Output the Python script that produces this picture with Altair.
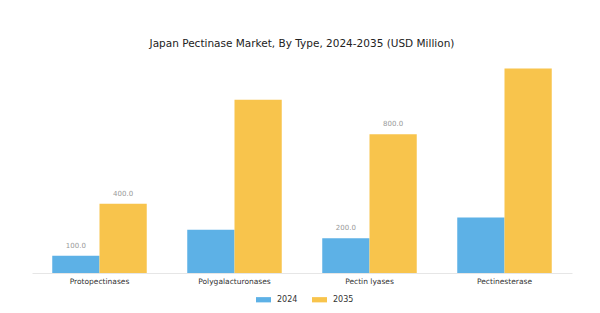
import altair as alt
import pandas as pd

types = ["Protopectinases", "Polygalacturonases", "Pectin lyases", "Pectinesterase"]
v2024 = [100, 250, 200, 320]
v2035 = [400, 1000, 800, 1180]
labels2024 = ["100.0", "", "200.0", ""]
labels2035 = ["400.0", "", "800.0", ""]
years = ["2024", "2035"]
colors = ["#5DB1E6", "#F8C44C"]

rows = []
for i, t in enumerate(types):
    rows.append({"Type": t, "Year": "2024", "Value": v2024[i], "Label": labels2024[i]})
    rows.append({"Type": t, "Year": "2035", "Value": v2035[i], "Label": labels2035[i]})
df = pd.DataFrame(rows)

x = alt.X("Type:N", sort=types, title=None,
          scale=alt.Scale(paddingInner=0.3, paddingOuter=0.15),
          axis=alt.Axis(labelAngle=0, ticks=False, domainColor="#e6e6e6",
                        labelFont="DejaVu Sans", labelFontSize=7.5, labelColor="#333",
                        labelPadding=4))
y = alt.Y("Value:Q", scale=alt.Scale(domain=[0, 1200]), axis=None)
xo = alt.XOffset("Year:N", sort=years)

bars = alt.Chart(df).mark_bar().encode(
    x=x, y=y, xOffset=xo,
    color=alt.Color("Year:N", sort=years,
                    scale=alt.Scale(domain=years, range=colors),
                    legend=alt.Legend(title=None, orient="none", direction="horizontal",
                                      legendX=224, legendY=22 + 205,
                                      symbolType="M-1,-0.35L1,-0.35L1,0.35L-1,0.35Z",
                                      symbolSize=225, symbolStrokeWidth=0,
                                      labelOffset=6,
                                      labelFont="DejaVu Sans", labelFontSize=8,
                                      labelColor="#333", columnPadding=14)),
)

text = alt.Chart(df).transform_filter("datum.Label != ''").mark_text(
    dy=-10, fontSize=7, font="DejaVu Sans", color="#999"
).encode(x=x, y=y, xOffset=xo, text="Label:N")

chart = (bars + text).properties(
    width=540, height=208,
    title=alt.TitleParams("Japan Pectinase Market, By Type, 2024-2035 (USD Million)",
                          font="DejaVu Sans", fontSize=10.5, fontWeight="normal",
                          color="#222", offset=16),
    autosize=alt.AutoSizeParams(type="none"),
    padding={"left": 32, "top": 65, "right": 28, "bottom": 40},
    background="white",
).configure_view(stroke=None)

chart.save("out.html", embed_options={"renderer": "svg", "actions": False})
